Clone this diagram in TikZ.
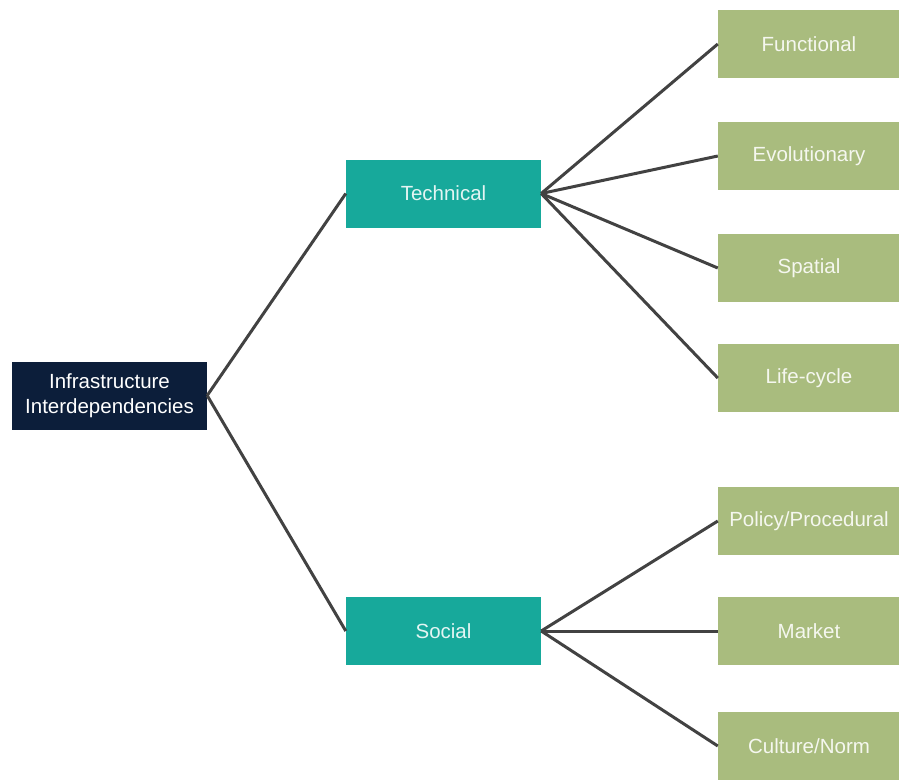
\documentclass[tikz,border=0pt]{standalone}
\usepackage{fontspec}
\setmainfont{Liberation Sans}
\usepackage{tikz}
\usetikzlibrary{positioning}
\usepackage{xcolor}
\definecolor{navy}{HTML}{0C1E3A}
\definecolor{teal}{HTML}{17A99B}
\definecolor{sage}{HTML}{A9BC7E}
\definecolor{linkgray}{HTML}{424242}

\tikzset{
  box/.style={minimum height=68pt, inner sep=0pt, align=center,
    font=\fontsize{20.5}{25}\selectfont},
  rootbox/.style={box, fill=navy, text=white, minimum width=195pt},
  midbox/.style={box, fill=teal, text=teal!12, minimum width=195pt},
  leafbox/.style={box, fill=sage, text=white!88!sage, minimum width=182pt},
  link/.style={draw=linkgray, line width=3pt}
}

\begin{document}
\begin{tikzpicture}[x=1pt, y=-1pt]
\useasboundingbox (0,0) rectangle (899,780);
\node[rootbox] (root) at (109.5,395.5) {Infrastructure\\Interdependencies};
\node[midbox] (tech) at (443.5,193.5) {Technical};
\node[midbox] (soc) at (443.5,631) {Social};
\node[leafbox] (func) at (809,44) {Functional};
\node[leafbox] (evo) at (809,156) {Evolutionary};
\node[leafbox] (spat) at (809,268) {Spatial};
\node[leafbox] (life) at (809,378) {Life-cycle};
\node[leafbox] (pol) at (809,521) {Policy/Procedural};
\node[leafbox] (mkt) at (809,631) {Market};
\node[leafbox] (cult) at (809,746) {Culture/Norm};
\draw[link] (root.east) -- (tech.west);
\draw[link] (root.east) -- (soc.west);
\draw[link] (tech.east) -- (func.west);
\draw[link] (tech.east) -- (evo.west);
\draw[link] (tech.east) -- (spat.west);
\draw[link] (tech.east) -- (life.west);
\draw[link] (soc.east) -- (pol.west);
\draw[link] (soc.east) -- (mkt.west);
\draw[link] (soc.east) -- (cult.west);
\end{tikzpicture}
\end{document}
